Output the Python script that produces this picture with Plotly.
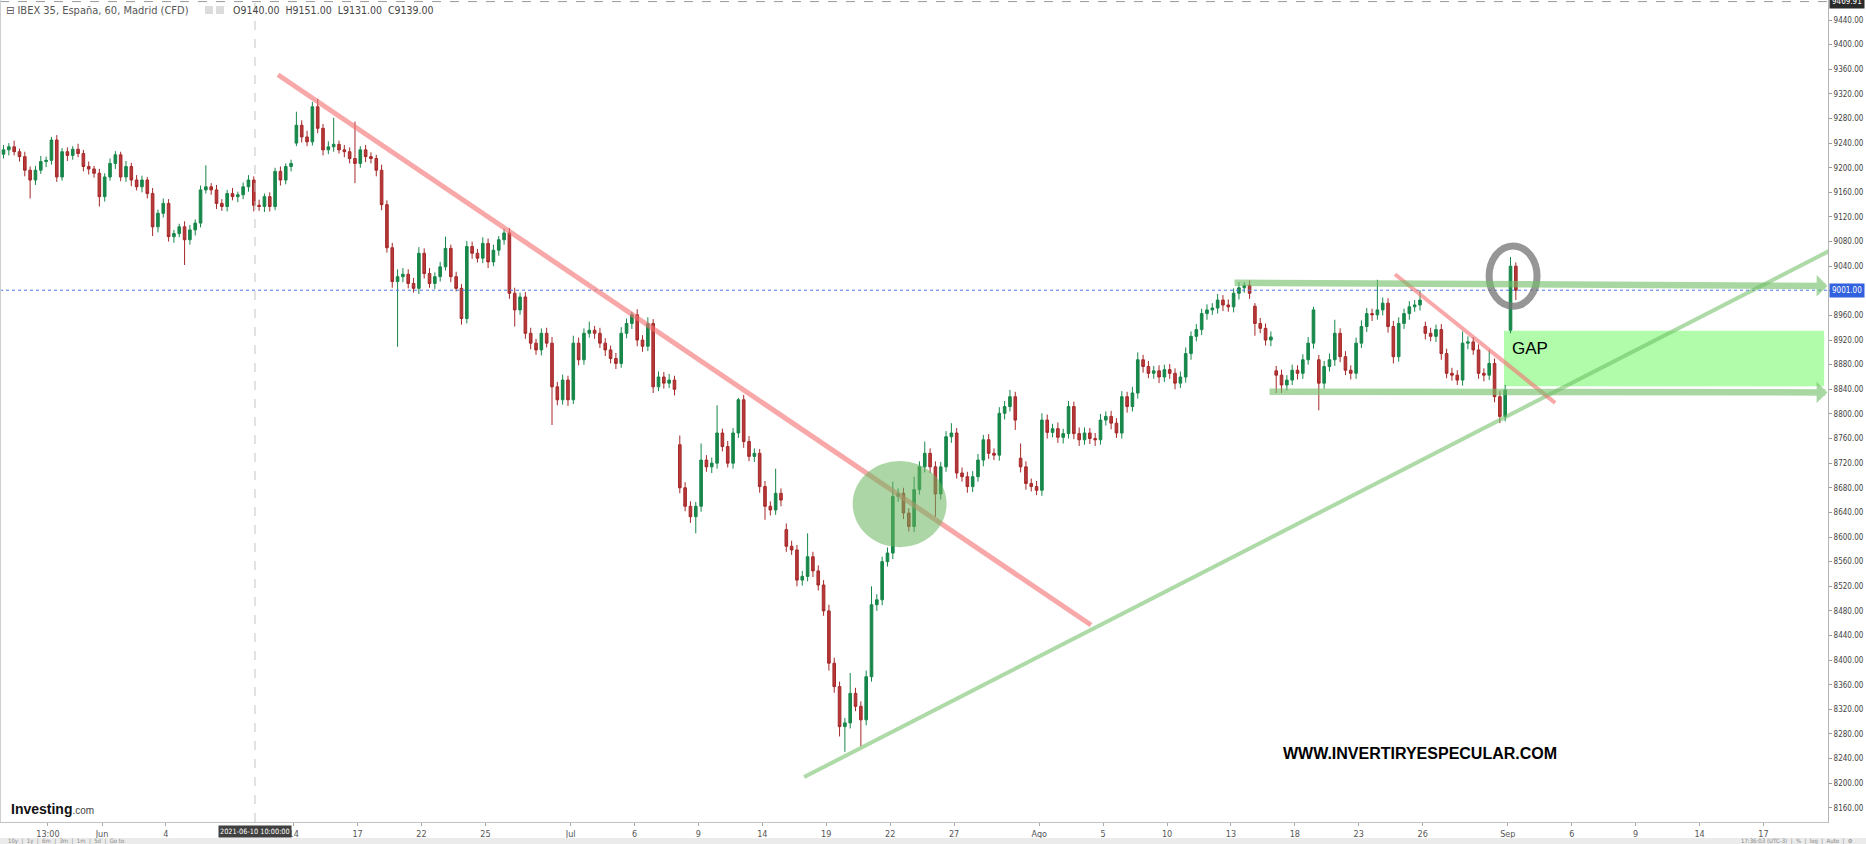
import plotly.graph_objects as go

# ---------------- DATA ----------------
closes = [
    9229, 9234, 9226, 9218, 9196, 9180, 9196, 9210, 9212, 9245, 9185, 9226, 9220, 9230, 9223, 9202, 9198, 9191, 9153, 9185,
    9207, 9221, 9185, 9202, 9180, 9169, 9180, 9158, 9104, 9126, 9142, 9088, 9093, 9104, 9083, 9099, 9110, 9164, 9169, 9164,
    9142, 9137, 9158, 9153, 9156, 9169, 9180, 9139, 9137, 9153, 9137, 9194, 9180, 9202, 9207, 9269, 9250, 9242, 9299, 9264,
    9229, 9234, 9238, 9229, 9226, 9215, 9207, 9229, 9218, 9215, 9196, 9140, 9070, 9015, 9023, 9027, 9012, 9004, 9061, 9028,
    9012, 9023, 9039, 9069, 9023, 9004, 8955, 9072, 9061, 9053, 9077, 9047, 9066, 9083, 9094, 8996, 8969, 8990, 8931, 8915,
    8904, 8931, 8915, 8844, 8823, 8855, 8823, 8915, 8888, 8931, 8936, 8931, 8915, 8904, 8890, 8882, 8931, 8947, 8961, 8920,
    8910, 8947, 8844, 8860, 8850, 8855, 8840, 8680, 8650, 8633, 8650, 8725, 8714, 8720, 8769, 8747, 8720, 8769, 8823, 8755,
    8731, 8736, 8682, 8650, 8644, 8671, 8660, 8585, 8579, 8530, 8536, 8568, 8545, 8522, 8480, 8395, 8357, 8292, 8298, 8346,
    8325, 8303, 8373, 8490, 8498, 8560, 8574, 8666, 8671, 8639, 8617, 8677, 8714, 8736, 8714, 8670, 8714, 8763, 8769, 8704,
    8698, 8682, 8698, 8725, 8758, 8736, 8733, 8801, 8812, 8828, 8790, 8714, 8687, 8682, 8676, 8790, 8770, 8776, 8762, 8768,
    8812, 8768, 8758, 8769, 8760, 8758, 8790, 8796, 8785, 8769, 8828, 8812, 8834, 8888, 8877, 8866, 8870, 8860, 8872, 8866,
    8850, 8860, 8898, 8926, 8937, 8963, 8969, 8972, 8985, 8977, 8974, 8996, 9005, 9009, 8996, 8947, 8939, 8920, 8925, 8863,
    8847, 8855, 8871, 8866, 8888, 8915, 8969, 8850, 8877, 8888, 8931, 8893, 8871, 8866, 8915, 8942, 8963, 8961, 8969, 8980,
    8942, 8893, 8947, 8963, 8974, 8977, 8985, 8931, 8926, 8937, 8898, 8866, 8863, 8855, 8915, 8917, 8904, 8866, 8863, 8882,
    8828, 8796, 8839, 9040, 9001,
]

opens = [
    9222, 9229, 9234, 9226, 9218, 9196, 9180, 9196, 9210, 9212, 9245, 9185, 9226, 9220, 9230, 9223, 9202, 9198, 9191, 9153,
    9185, 9207, 9221, 9185, 9202, 9180, 9169, 9180, 9158, 9104, 9126, 9142, 9088, 9093, 9104, 9083, 9099, 9110, 9164, 9169,
    9164, 9142, 9137, 9158, 9153, 9156, 9169, 9180, 9139, 9137, 9153, 9137, 9194, 9180, 9202, 9240, 9269, 9250, 9242, 9299,
    9264, 9229, 9234, 9238, 9229, 9226, 9215, 9207, 9229, 9218, 9215, 9196, 9140, 9070, 9015, 9023, 9027, 9012, 9004, 9061,
    9028, 9012, 9023, 9039, 9069, 9023, 9004, 8955, 9072, 9061, 9053, 9077, 9047, 9066, 9083, 9094, 8996, 8969, 8990, 8931,
    8915, 8904, 8931, 8915, 8844, 8823, 8855, 8823, 8915, 8888, 8931, 8936, 8931, 8915, 8904, 8890, 8882, 8931, 8947, 8961,
    8920, 8910, 8947, 8844, 8860, 8850, 8855, 8750, 8680, 8650, 8633, 8650, 8725, 8714, 8720, 8769, 8747, 8720, 8769, 8823,
    8755, 8731, 8736, 8682, 8650, 8644, 8671, 8612, 8585, 8579, 8530, 8536, 8568, 8545, 8522, 8480, 8395, 8357, 8292, 8298,
    8346, 8325, 8303, 8373, 8490, 8498, 8560, 8574, 8666, 8671, 8639, 8617, 8677, 8714, 8736, 8714, 8670, 8714, 8763, 8769,
    8704, 8698, 8682, 8698, 8725, 8758, 8736, 8733, 8801, 8812, 8828, 8728, 8714, 8687, 8682, 8676, 8790, 8770, 8776, 8762,
    8768, 8812, 8768, 8758, 8769, 8760, 8758, 8790, 8796, 8785, 8769, 8828, 8812, 8834, 8888, 8877, 8866, 8870, 8860, 8872,
    8866, 8850, 8860, 8898, 8926, 8937, 8963, 8969, 8972, 8985, 8977, 8974, 8996, 9005, 9009, 8975, 8947, 8939, 8920, 8870,
    8863, 8847, 8855, 8871, 8866, 8888, 8915, 8888, 8850, 8877, 8888, 8931, 8893, 8871, 8866, 8915, 8942, 8963, 8961, 8969,
    8980, 8942, 8893, 8947, 8963, 8974, 8977, 8942, 8931, 8926, 8937, 8898, 8866, 8863, 8855, 8915, 8917, 8904, 8866, 8863,
    8882, 8828, 8796, 8936, 9040,
]

upper_wick = [
    8, 6, 10, 5, 8, 6, 7, 9, 6, 5, 8, 6, 7, 5, 9, 6, 8, 5, 7, 6,
    8, 6, 5, 9, 6, 8, 7, 5, 9, 6, 8, 7, 6, 5, 9, 8, 6, 7, 35, 6,
    8, 7, 6, 9, 5, 7, 8, 6, 9, 5, 7, 6, 8, 5, 6, 22, 8, 10, 8, 13,
    7, 9, 43, 6, 8, 7, 60, 6, 8, 7, 6, 9, 7, 8, 12, 10, 8, 9, 10, 8,
    9, 7, 8, 19, 6, 8, 7, 9, 8, 7, 10, 8, 9, 6, 7, 8, 9, 7, 8, 9,
    7, 8, 9, 10, 8, 9, 7, 12, 9, 8, 14, 7, 9, 8, 7, 9, 10, 8, 5, 9,
    8, 10, 7, 9, 8, 10, 7, 15, 9, 8, 7, 27, 8, 9, 45, 7, 9, 8, 3, 8,
    9, 8, 7, 9, 8, 40, 8, 10, 9, 8, 9, 38, 8, 9, 8, 10, 9, 8, 8, 33,
    9, 8, 10, 30, 9, 8, 9, 24, 8, 9, 8, 21, 9, 19, 8, 9, 8, 9, 16, 8,
    9, 8, 9, 10, 8, 9, 8, 10, 9, 11, 8, 24, 9, 8, 9, 11, 9, 8, 10, 8,
    9, 8, 10, 9, 8, 9, 10, 8, 9, 8, 9, 8, 10, 12, 8, 9, 8, 9, 8, 9,
    8, 9, 10, 8, 9, 8, 9, 8, 10, 8, 9, 8, 9, 5, 8, 5, 9, 8, 9, 8,
    9, 8, 9, 8, 9, 10, 5, 8, 9, 10, 22, 8, 9, 8, 9, 10, 9, 8, 49, 9,
    8, 9, 10, 8, 9, 8, 16, 8, 9, 8, 9, 8, 9, 8, 19, 9, 8, 9, 8, 22,
    8, 9, 8, 15, 6,
]

lower_wick = [
    7, 9, 6, 8, 10, 30, 8, 6, 9, 7, 8, 6, 9, 7, 6, 8, 9, 7, 16, 8,
    6, 9, 7, 8, 10, 6, 9, 8, 15, 9, 7, 8, 10, 6, 41, 8, 9, 7, 6, 8,
    9, 7, 8, 6, 9, 7, 8, 10, 7, 9, 8, 6, 9, 7, 8, 5, 9, 7, 6, 8,
    9, 7, 8, 6, 9, 8, 32, 7, 9, 8, 10, 9, 8, 10, 106, 9, 8, 7, 9, 8,
    7, 9, 8, 6, 9, 5, 10, 8, 9, 7, 8, 10, 7, 9, 8, 9, 27, 8, 9, 10,
    8, 9, 7, 62, 9, 8, 10, 7, 9, 8, 7, 9, 8, 10, 8, 9, 7, 8, 9, 10,
    9, 8, 10, 7, 9, 8, 10, 9, 8, 10, 27, 9, 8, 10, 9, 8, 7, 9, 8, 10,
    8, 9, 10, 22, 9, 8, 10, 9, 8, 10, 9, 8, 10, 9, 8, 12, 10, 16, 41, 9,
    8, 43, 9, 8, 10, 9, 8, 10, 9, 10, 8, 9, 8, 9, 10, 37, 9, 8, 10, 9,
    8, 10, 9, 8, 10, 9, 8, 9, 10, 8, 16, 9, 10, 8, 8, 9, 10, 8, 9, 10,
    8, 9, 10, 8, 9, 10, 8, 9, 10, 8, 9, 10, 8, 9, 10, 8, 9, 10, 8, 9,
    10, 8, 9, 10, 8, 9, 10, 8, 9, 10, 8, 9, 10, 8, 9, 20, 8, 9, 10, 29,
    13, 9, 8, 10, 9, 8, 9, 44, 9, 8, 10, 9, 8, 10, 9, 8, 9, 10, 8, 9,
    10, 11, 8, 9, 10, 8, 9, 10, 8, 9, 10, 8, 9, 8, 9, 10, 8, 9, 10, 8,
    9, 11, 8, 5, 16,
]

# x axis is measured in trading days (0 = 1 Jun 2021), 4 bars per day
BARS_PER_DAY = 4
FIRST_BAR_DAY = -4.625
tick_days = [-2.54, 0, 3, 9, 12, 15, 18, 22, 25, 28, 31, 34, 37, 40, 44, 47, 50, 53, 56, 59, 62, 66, 69, 72, 75, 78]
tick_text = ["13:00", "Jun", "4", "14", "17", "22", "25", "Jul", "6", "9", "14", "19", "22", "27",
             "Ago", "5", "10", "13", "18", "23", "26", "Sep", "6", "9", "14", "17"]

last_price = 9001.00
cursor_price = 9469.91
cursor_day = 7.18
cursor_label = "2021-06-10 10:00:00"
gap_low, gap_high = 8845, 8935

# ---------------- derived ----------------
bar_day = [FIRST_BAR_DAY + k / BARS_PER_DAY for k in range(len(closes))]
highs = [max(o, c) + w for o, c, w in zip(opens, closes, upper_wick)]
lows = [min(o, c) - w for o, c, w in zip(opens, closes, lower_wick)]

X_RANGE = [-4.79, 81.03]
Y_RANGE = [8137, 9472.5]

NARROW = "Liberation Sans Narrow, DejaVu Sans Condensed, Arial Narrow, sans-serif"
ARIAL = "Liberation Sans, Arial, sans-serif"
HEAD = "DejaVu Sans Condensed, DejaVu Sans, sans-serif"

fig = go.Figure()
fig.add_trace(go.Candlestick(
    x=bar_day, open=opens, high=highs, low=lows, close=closes,
    increasing=dict(line=dict(color="#17874a", width=1), fillcolor="#17874a"),
    decreasing=dict(line=dict(color="#a52828", width=1), fillcolor="#b8393a"),
    whiskerwidth=0, showlegend=False, hoverinfo="skip",
))

pink = "rgba(244,115,115,0.62)"
green_line = "rgba(105,188,95,0.55)"
green_arrow = "rgba(115,192,105,0.62)"

shapes = [
    dict(type="rect", xref="x", yref="y", x0=65.82, x1=80.85, y0=gap_low, y1=gap_high,
         fillcolor="#b0fcab", line=dict(width=0), layer="below"),
    dict(type="line", xref="paper", yref="y", x0=0, x1=1, y0=last_price, y1=last_price,
         line=dict(color="#4a74e6", width=1, dash="dot")),
    dict(type="line", xref="x", yref="paper", x0=cursor_day, x1=cursor_day, y0=0, y1=1,
         line=dict(color="#c4c4c4", width=1, dash="dash")),
    dict(type="line", xref="paper", yref="y", x0=0, x1=1, y0=cursor_price, y1=cursor_price,
         line=dict(color="#9a9a9a", width=1, dash="dash")),
    dict(type="line", xref="x", yref="y", x0=8.26, y0=9351, x1=46.43, y1=8457,
         line=dict(color=pink, width=5)),
    dict(type="line", xref="x", yref="y", x0=32.96, y0=8210, x1=81.27, y1=9068,
         line=dict(color=green_line, width=4)),
    dict(type="line", xref="x", yref="y", x0=60.7, y0=9027, x1=68.22, y1=8818,
         line=dict(color=pink, width=4)),
    dict(type="circle", xref="x", yref="y", x0=35.24, x1=39.65, y0=8583.5, y1=8723.6,
         fillcolor="rgba(105,180,95,0.55)", line=dict(width=0)),
    dict(type="circle", xref="x", yref="y", x0=65.12, x1=67.37, y0=8975, y1=9073,
         line=dict(color="rgba(115,115,115,0.75)", width=7)),
    dict(type="line", xref="paper", yref="paper", x0=0, x1=0, y0=0, y1=1,
         line=dict(color="#cfcfcf", width=2)),
    dict(type="rect", xref="paper", yref="paper", x0=0, x1=1.03, y0=-0.0195, y1=-0.03,
         fillcolor="#ebebeb", line=dict(width=0)),
    dict(type="rect", xref="paper", yref="paper", x0=205 / 1828, x1=213 / 1828, y0=1 - 14 / 822, y1=1 - 6 / 822,
         fillcolor="#dcdcdc", line=dict(width=0)),
    dict(type="rect", xref="paper", yref="paper", x0=216 / 1828, x1=224 / 1828, y0=1 - 14 / 822, y1=1 - 6 / 822,
         fillcolor="#dcdcdc", line=dict(width=0)),
]

annotations = [
    dict(x=81.0, y=9008, ax=53.1, ay=9013, xref="x", yref="y", axref="x", ayref="y",
         showarrow=True, arrowhead=1, arrowsize=0.55, arrowwidth=6.5, arrowcolor=green_arrow, text=""),
    dict(x=81.0, y=8835, ax=54.74, ay=8836, xref="x", yref="y", axref="x", ayref="y",
         showarrow=True, arrowhead=1, arrowsize=0.55, arrowwidth=6.5, arrowcolor=green_arrow, text=""),
    dict(x=66.1, y=8907, xref="x", yref="y", text="GAP", showarrow=False, xanchor="left",
         font=dict(family=ARIAL, size=17, color="#000")),
    dict(x=55.35, y=8249, xref="x", yref="y", text="<b>WWW.INVERTIRYESPECULAR.COM</b>", showarrow=False,
         xanchor="left", font=dict(family=ARIAL, size=16, color="#000")),
    dict(x=0, y=1, xref="paper", yref="paper", xanchor="left", yanchor="top", xshift=4, yshift=-2,
         text="⊟ IBEX 35, España, 60, Madrid (CFD)", showarrow=False,
         font=dict(family=HEAD, size=11, color="#555")),
    dict(x=231 / 1828, y=1, xref="paper", yref="paper", xanchor="left", yanchor="top", yshift=-2,
         text="O9140.00  H9151.00  L9131.00  C9139.00", showarrow=False,
         font=dict(family=HEAD, size=10.5, color="#444")),
    dict(x=0, y=13 / 822, xref="paper", yref="paper", xanchor="left", yanchor="middle", xshift=9,
         text="<b>Investing</b><span style='font-size:10px;color:#444'>.com</span>", showarrow=False,
         font=dict(family=ARIAL, size=14, color="#111")),
    dict(x=cursor_day, y=0, xref="x", yref="paper", yanchor="top", yshift=-3, text=cursor_label,
         showarrow=False, bgcolor="#404040", borderpad=1, font=dict(family=NARROW, size=7.3, color="#fff")),
    dict(x=1, y=last_price, xref="paper", yref="y", xanchor="left", xshift=1, text=f"{last_price:.2f}",
         showarrow=False, bgcolor="#3161de", borderpad=2, font=dict(family=NARROW, size=8, color="#fff")),
    dict(x=1, y=cursor_price, xref="paper", yref="y", xanchor="left", xshift=1, text=f"{cursor_price:.2f}",
         showarrow=False, bgcolor="#2b2b2b", borderpad=2, font=dict(family=NARROW, size=8, color="#fff")),
    dict(x=0, y=-(841 - 822) / 822, xref="paper", yref="paper", xanchor="left", yanchor="middle", xshift=6,
         text="10y  |  1y  |  6m  |  3m  |  1m  |  5d  |  Go to", showarrow=False,
         font=dict(family=NARROW, size=6, color="#888")),
    dict(x=1.015, y=-(841 - 822) / 822, xref="paper", yref="paper", xanchor="right", yanchor="middle",
         text="17:36:03 (UTC-3)  |  %  |  log  |  Auto  |  ⚙", showarrow=False,
         font=dict(family=NARROW, size=6, color="#888")),
]

fig.update_layout(
    width=1866, height=844,
    margin=dict(l=0, r=38, t=0, b=22),
    paper_bgcolor="white", plot_bgcolor="white",
    showlegend=False, boxgap=0.3,
    shapes=shapes, annotations=annotations,
    xaxis=dict(
        range=X_RANGE, tickmode="array", tickvals=tick_days, ticktext=tick_text,
        showgrid=False, zeroline=False, showline=True, linecolor="#c2c2c2", linewidth=1,
        ticks="outside", ticklen=3, tickcolor="#aaa",
        tickfont=dict(family=NARROW, size=9, color="#555"),
        rangeslider=dict(visible=False), fixedrange=True,
    ),
    yaxis=dict(
        range=Y_RANGE, side="right", tick0=8160, dtick=40, tickformat=".2f",
        showgrid=False, zeroline=False, showline=True, linecolor="#b5b5b5", linewidth=1,
        ticks="outside", ticklen=3, tickcolor="#999",
        tickfont=dict(family=NARROW, size=8, color="#444"), fixedrange=True,
    ),
)

fig.write_html("out.html", config={"displayModeBar": False},
               post_script="document.body.style.margin='0';document.body.style.overflow='hidden';")
